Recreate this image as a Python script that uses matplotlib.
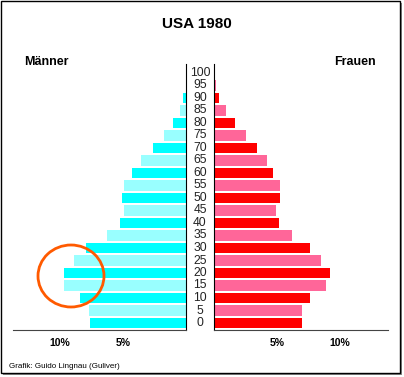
import numpy as np
import matplotlib
matplotlib.use("Agg")
import matplotlib.pyplot as plt
from matplotlib.patches import Ellipse, Rectangle

plt.rcParams['font.family'] = ['Liberation Sans', 'DejaVu Sans']

ages = [0, 5, 10, 15, 20, 25, 30, 35, 40, 45, 50, 55, 60, 65, 70, 75, 80, 85, 90, 95, 100]
maenner = [7.6, 7.7, 8.4, 9.7, 9.65, 8.9, 7.95, 6.3, 5.25, 4.9, 5.1, 4.95, 4.3, 3.55, 2.65, 1.75, 1.0, 0.5, 0.25, 0.0, 0.0]
frauen = [6.95, 6.95, 7.6, 8.9, 9.2, 8.45, 7.65, 6.15, 5.15, 4.9, 5.25, 5.2, 4.7, 4.2, 3.4, 2.55, 1.65, 0.95, 0.4, 0.12, 0.0]
ticks = [5, 10]
tick_labels = ["5%", "10%"]

W, H = 404, 377
fig = plt.figure(figsize=(W / 100, H / 100), dpi=100)

def fx(px):
    return px / W

def fy(py):
    return 1 - py / H

y = np.arange(len(ages))
m_col = ['#00ffff' if i % 2 == 0 else '#99ffff' for i in range(len(ages))]
f_col = ['#ff0000' if i % 2 == 0 else '#ff6699' for i in range(len(ages))]

bottom, top = 330, 64
ylim = (-0.56, 20.72)

# Maenner (links)
axl = fig.add_axes([fx(13), fy(bottom), fx(186 - 13), (bottom - top) / H])
axl.barh(y, maenner, height=0.86, color=m_col)
axl.set_xlim(13.73, 0)
axl.set_ylim(*ylim)
for s in ['left', 'top']:
    axl.spines[s].set_visible(False)
axl.spines['right'].set_color('black')
axl.spines['bottom'].set_color('#444444')
axl.set_yticks([])
axl.set_xticks(ticks)
axl.set_xticklabels(tick_labels, fontsize=7.5, fontweight='bold')
axl.tick_params(axis='x', length=0, pad=6)

# Frauen (rechts)
axr = fig.add_axes([fx(214), fy(bottom), fx(388 - 214), (bottom - top) / H])
axr.barh(y, frauen, height=0.86, color=f_col)
axr.set_xlim(0, 13.8)
axr.set_ylim(*ylim)
for s in ['right', 'top']:
    axr.spines[s].set_visible(False)
axr.spines['left'].set_color('black')
axr.spines['bottom'].set_color('#444444')
axr.set_yticks([])
axr.set_xticks(ticks)
axr.set_xticklabels(tick_labels, fontsize=7.5, fontweight='bold')
axr.tick_params(axis='x', length=0, pad=6)

# Altersbeschriftung in der Mitte
for i, a in enumerate(ages):
    axr.text(-14 / 12.6, i, str(a), ha='center', va='center', fontsize=8.7,
             color='#222222', transform=axr.transData, clip_on=False)

fig.text(fx(197), fy(24), "USA 1980", ha='center', va='center', fontsize=11, fontweight='bold')
fig.text(fx(24), fy(62), "Männer", ha='left', va='center', fontsize=9, fontweight='bold')
fig.text(fx(376), fy(62), "Frauen", ha='right', va='center', fontsize=9, fontweight='bold')
fig.text(fx(9), fy(366.5), "Grafik: Guido Lingnau (Guliver)", ha='left', va='center', fontsize=5.8)

# orange Markierung
fig.patches.append(Ellipse((fx(71), fy(276)), fx(66), 62 / H, fill=False,
                           edgecolor='#ff5a00', linewidth=2, transform=fig.transFigure))

# Rahmen mit Schatten
fig.patches.append(Rectangle((fx(3), fy(375)), fx(399), 372 / H, facecolor='#888888',
                             edgecolor='none', transform=fig.transFigure, zorder=-3))
fig.patches.append(Rectangle((fx(1), fy(373)), fx(399), 372 / H, facecolor='white',
                             edgecolor='black', linewidth=1, transform=fig.transFigure, zorder=-2))

fig.savefig("out.png", dpi=100)
